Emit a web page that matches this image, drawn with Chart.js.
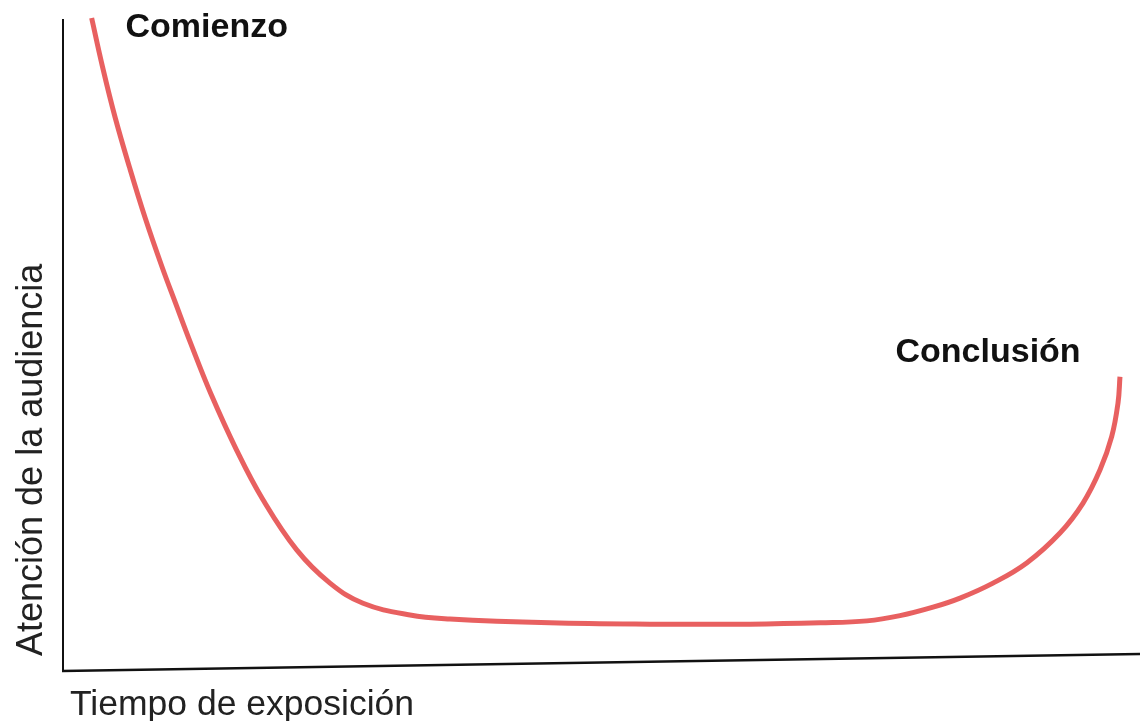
<!DOCTYPE html>
<html>
<head>
<meta charset="utf-8">
<script src="https://cdn.jsdelivr.net/npm/chart.js@4.4.1/dist/chart.umd.min.js"></script>
<style>
    html, body { margin: 0; padding: 0; background: #fff; }
    #wrap { width: 1140px; height: 721px; position: relative; }
</style>
</head>
<body>
<div id="wrap"><canvas id="attentionChart"></canvas></div>
<script>
// time along the talk (0-100) and audience attention (0-100)
const timeX = [2.66, 3.67, 4.83, 6.17, 7.61, 9.19, 10.45, 11.84, 13.7, 16.13, 18.57, 21.7, 24.79, 27.86, 32.22, 35.93, 45.22, 54.5, 63.79, 70.29, 74.65, 77.72, 80.78, 83.29, 86.35, 89.48, 92.57, 94.71, 96.29, 97.37, 97.96, 98.14];
const attention = [100.3, 92.8, 85.1, 77.4, 69.7, 62.1, 56.5, 50.4, 42.7, 33.9, 26.3, 18.6, 13.5, 10.4, 8.6, 8.0, 7.4, 7.2, 7.2, 7.4, 7.7, 8.5, 9.8, 11.2, 13.5, 16.6, 21.2, 25.8, 30.9, 36.0, 41.2, 45.2];

// annotations on the curve
const noteText = ['Comienzo', 'Conclusión'];
const noteX = [5.8, 77.3];
const noteY = [97.4, 47.5];

const xTitle = 'Tiempo de exposición';
const yTitle = 'Atención de la audiencia';

const points = timeX.map((x, i) => ({ x: x, y: attention[i] }));

// slanted x baseline, titles and the two bold labels
const sketchPlugin = {
    id: 'sketch',
    afterDraw(chart) {
        const ctx = chart.ctx;
        const area = chart.chartArea;
        const xs = chart.scales.x;
        const ys = chart.scales.y;

        ctx.save();
        ctx.strokeStyle = '#111';
        ctx.lineWidth = 2.5;
        ctx.beginPath();
        ctx.moveTo(area.left - 1, area.bottom);
        ctx.lineTo(area.right, area.bottom - 17);
        ctx.stroke();

        ctx.fillStyle = '#111';
        ctx.font = 'bold 34px "Liberation Sans", Arial, sans-serif';
        ctx.textBaseline = 'alphabetic';
        ctx.textAlign = 'left';
        noteText.forEach((t, i) => {
            ctx.fillText(t, xs.getPixelForValue(noteX[i]), ys.getPixelForValue(noteY[i]));
        });

        ctx.fillStyle = '#222';
        ctx.font = '35.5px "Liberation Sans", Arial, sans-serif';
        ctx.fillText(xTitle, area.left + 7, area.bottom + 44);

        ctx.translate(area.left - 21, area.bottom - 15);
        ctx.rotate(-Math.PI / 2);
        ctx.font = '36px "Liberation Sans", Arial, sans-serif';
        ctx.fillText(yTitle, 0, 0);
        ctx.restore();
    }
};

new Chart(document.getElementById('attentionChart'), {
    type: 'scatter',
    data: {
        datasets: [{
            data: points,
            showLine: true,
            borderColor: 'rgba(230, 82, 82, 0.92)',
            borderWidth: 5,
            pointRadius: 0,
            tension: 0.4,
            clip: false
        }]
    },
    options: {
        responsive: true,
        maintainAspectRatio: false,
        animation: false,
        layout: { padding: { left: 63, top: 20, right: 0, bottom: 50 } },
        plugins: {
            legend: { display: false },
            tooltip: { enabled: false }
        },
        scales: {
            x: {
                type: 'linear',
                min: 0,
                max: 100,
                display: false
            },
            y: {
                type: 'linear',
                min: 0,
                max: 100,
                display: true,
                ticks: { display: false },
                grid: { display: false, drawTicks: false },
                border: { display: true, color: '#111', width: 2 }
            }
        }
    },
    plugins: [sketchPlugin]
});
</script>
</body>
</html>
